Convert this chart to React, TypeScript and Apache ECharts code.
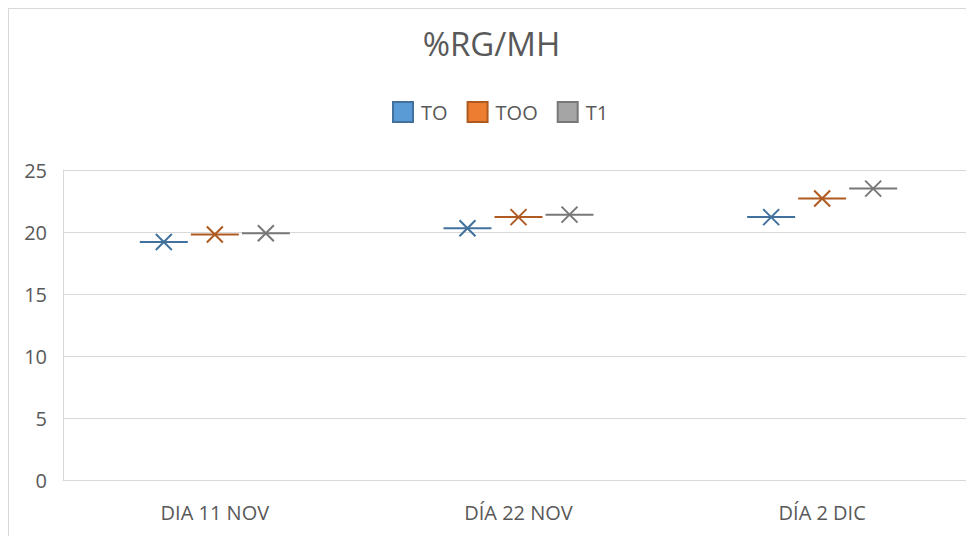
import React, { useEffect, useRef } from "react";
import * as echarts from "echarts";

const categories = ["DIA 11 NOV", "DÍA 22 NOV", "DÍA 2 DIC"];
const seriesNames = ["TO", "TOO", "T1"];
const valuesTO = [19.2, 20.3, 21.2];
const valuesTOO = [19.8, 21.2, 22.7];
const valuesT1 = [19.9, 21.4, 23.5];
const yTicks = [0, 5, 10, 15, 20, 25];

const fills = ["#5B9BD5", "#ED7D31", "#A5A5A5"];
const strokes = ["#41719C", "#AE5A21", "#787878"];
const FONT = "Open Sans";

export default function App() {
  const ref = useRef<HTMLDivElement>(null);
  useEffect(() => {
    if (!ref.current) return;
    const chart = echarts.init(ref.current, undefined, { renderer: "svg" });
    const allValues = [valuesTO, valuesTOO, valuesT1];
    const offsets = [-0.168, 0, 0.168];
    const series = seriesNames.map((name, si) => ({
      name,
      type: "custom",
      itemStyle: { color: fills[si], borderColor: strokes[si], borderWidth: 1 },
      data: allValues[si].map((v, i) => [i, v]),
      renderItem: (params: any, api: any) => {
        const c = api.coord([api.value(0), api.value(1)]);
        const band = api.size([1, 0])[0];
        const cx = c[0] + band * offsets[si];
        const cy = c[1];
        const half = band * 0.079;
        const m = 8;
        const st = { stroke: strokes[si], lineWidth: 2 };
        return {
          type: "group",
          children: [
            { type: "line", shape: { x1: cx - half, y1: cy, x2: cx + half, y2: cy }, style: st },
            { type: "line", shape: { x1: cx - m, y1: cy - m, x2: cx + m, y2: cy + m }, style: st },
            { type: "line", shape: { x1: cx - m, y1: cy + m, x2: cx + m, y2: cy - m }, style: st },
          ],
        };
      },
    }));
    chart.setOption({
      animation: false,
      textStyle: { fontFamily: FONT },
      title: {
        text: "%RG/MH",
        left: "center",
        top: 13,
        textStyle: { fontFamily: FONT, fontSize: 33, fontWeight: "normal", color: "#595959" },
      },
      legend: {
        top: 87,
        left: 378,
        itemWidth: 20,
        itemHeight: 20,
        itemGap: 19,
        icon: "rect",
        textStyle: { fontFamily: FONT, fontSize: 20, color: "#595959", padding: [0, 0, 0, 3] },
        data: seriesNames,
      },
      grid: { left: 54, right: 0, top: 161, bottom: 56, containLabel: false },
      xAxis: {
        type: "category",
        data: categories,
        axisLine: { show: true, lineStyle: { color: "#d9d9d9", width: 1 } },
        axisTick: { show: false },
        axisLabel: { fontFamily: FONT, fontSize: 20, color: "#595959", margin: 22 },
        splitLine: { show: false },
      },
      yAxis: {
        type: "value",
        min: yTicks[0],
        max: yTicks[yTicks.length - 1],
        interval: 5,
        axisLine: { show: true, lineStyle: { color: "#d9d9d9", width: 1 } },
        axisTick: { show: false },
        axisLabel: { fontFamily: FONT, fontSize: 20, color: "#595959", margin: 16 },
        splitLine: { show: true, lineStyle: { color: "#d9d9d9", width: 1 } },
      },
      series,
    });
    return () => chart.dispose();
  }, []);
  return (
    <div
      style={{
        width: 966,
        height: 528,
        boxSizing: "border-box",
        borderTop: "1px solid #d9d9d9",
        borderLeft: "1px solid #d9d9d9",
        overflow: "hidden",
      }}
    >
      <div ref={ref} style={{ width: 965, height: 527 }} />
    </div>
  );
}
